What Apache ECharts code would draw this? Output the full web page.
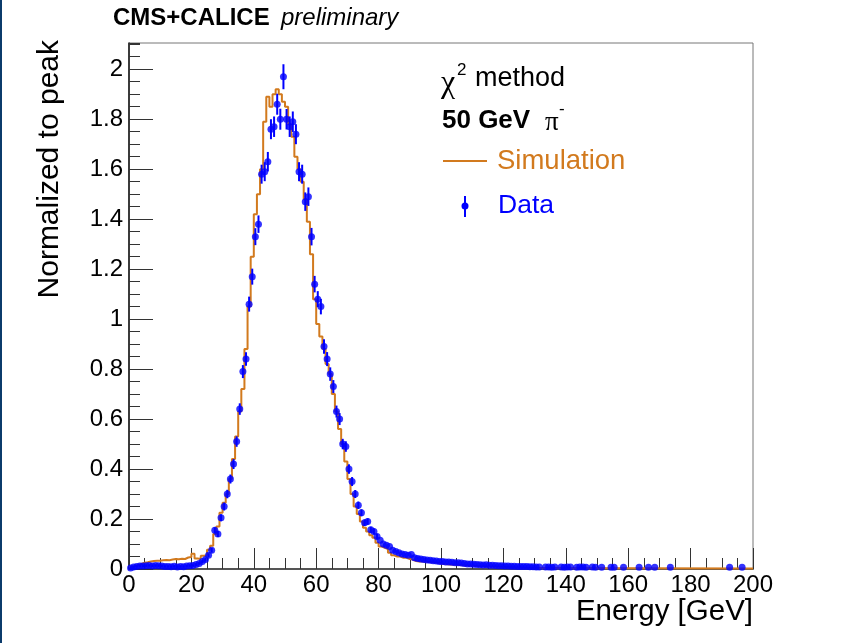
<!DOCTYPE html>
<html>
<head>
<meta charset="utf-8">
<script src="https://cdn.jsdelivr.net/npm/echarts@6/dist/echarts.min.js"></script>
<style>
    html, body { margin: 0; padding: 0; background: #fff; }
    #chart { width: 846px; height: 643px; }
</style>
</head>
<body>
<div id="chart"></div>
<script>
// simulation histogram, 1 GeV bins starting at 0
var simBinWidth = 1;
var simValues = [
    0.008, 0.012, 0.015, 0.02, 0.025, 0.027, 0.03, 0.032, 0.033, 0.033,
    0.035, 0.036, 0.035, 0.038, 0.04, 0.039, 0.041, 0.04, 0.046, 0.048,
    0.061, 0.042, 0.04, 0.053, 0.055, 0.077, 0.093, 0.14, 0.17, 0.225,
    0.265, 0.30, 0.36, 0.44, 0.53, 0.63, 0.72, 0.88, 1.05, 1.25,
    1.42, 1.50, 1.60, 1.79, 1.89, 1.85, 1.90, 1.92, 1.90, 1.87,
    1.85, 1.78, 1.73, 1.65, 1.60, 1.55, 1.48, 1.39, 1.26, 1.08,
    0.98, 0.93, 0.88, 0.82, 0.78, 0.70, 0.63, 0.56, 0.50, 0.43,
    0.36, 0.30, 0.25, 0.22, 0.19, 0.165, 0.15, 0.135, 0.125, 0.105,
    0.09, 0.085, 0.08, 0.065, 0.055, 0.05, 0.05, 0.045, 0.045, 0.04,
    0.038, 0.032, 0.03, 0.03, 0.029, 0.028, 0.027, 0.026, 0.025, 0.022,
    0.02, 0.019, 0.018, 0.017, 0.017, 0.016, 0.015, 0.014, 0.014, 0.013,
    0.012, 0.012, 0.011, 0.011, 0.010, 0.010, 0.010, 0.009, 0.009, 0.008,
    0.008, 0.007, 0.007, 0.006, 0.006, 0.005, 0.005, 0.004, 0.004, 0.004
];
// one wide bin for the flat tail 130-200 GeV
var simTailRange = [130, 200];
var simTailValue = 0.002;

// data, 1 GeV bins starting at 0 (0 = empty bin)
var dataBinWidth = 1;
var dataValues = [
    0.004, 0.008, 0.01, 0.012, 0.012, 0.013, 0.014, 0.012, 0.014, 0.013,
    0.012, 0.010, 0.010, 0.009, 0.011, 0.008, 0.010, 0.009, 0.012, 0.013,
    0.014, 0.018, 0.022, 0.030, 0.038, 0.055, 0.075, 0.155, 0.14, 0.205,
    0.25, 0.30, 0.36, 0.42, 0.51, 0.64, 0.79, 0.84, 1.06, 1.17,
    1.33, 1.38, 1.58, 1.59, 1.63, 1.76, 1.77, 1.86, 1.80, 1.97,
    1.80, 1.77, 1.79, 1.74, 1.59, 1.58, 1.47, 1.49, 1.33, 1.14,
    1.08, 1.05, 0.89, 0.84, 0.78, 0.73, 0.63, 0.60, 0.50, 0.49,
    0.40, 0.35, 0.30, 0.255, 0.225, 0.185, 0.19, 0.157, 0.15, 0.13,
    0.115, 0.10, 0.095, 0.09, 0.075, 0.07, 0.065, 0.06, 0.058, 0.055,
    0.058, 0.045, 0.042, 0.040, 0.038, 0.036, 0.035, 0.033, 0.032, 0.030,
    0.030, 0.028, 0.028, 0.027, 0.025, 0.025, 0.024, 0.022, 0.020, 0.020,
    0.019, 0.018, 0.017, 0.016, 0.017, 0.015, 0.015, 0.014, 0.013, 0.013,
    0.012, 0.012, 0.011, 0.011, 0.010, 0.010, 0.010, 0.010, 0.009, 0.009,
    0.008, 0.008, 0, 0.008, 0.008, 0.007, 0.008, 0, 0.008, 0.007,
    0.008, 0.008, 0, 0.007, 0.008, 0.008, 0.007, 0, 0.008, 0.007
];
// error bars for the first bins (later ones hide behind the markers)
var dataErrors = [
    0.004, 0.004, 0.004, 0.004, 0.004, 0.004, 0.004, 0.004, 0.004, 0.004,
    0.004, 0.004, 0.004, 0.004, 0.004, 0.004, 0.004, 0.004, 0.004, 0.004,
    0.004, 0.005, 0.005, 0.006, 0.007, 0.008, 0.009, 0.012, 0.012, 0.014,
    0.016, 0.017, 0.018, 0.02, 0.021, 0.023, 0.026, 0.027, 0.03, 0.032,
    0.034, 0.035, 0.038, 0.038, 0.039, 0.04, 0.041, 0.042, 0.042, 0.05,
    0.041, 0.041, 0.041, 0.04, 0.038, 0.038, 0.037, 0.037, 0.035, 0.033,
    0.032, 0.031, 0.029, 0.028, 0.027, 0.026, 0.024, 0.024, 0.021, 0.021,
    0.019, 0.018, 0.016, 0.015, 0.014, 0.013, 0.013, 0.012, 0.012, 0.011
];
// isolated data points in the far tail
var dataTailEnergy = [151.5, 154.5, 155.5, 158.5, 163.5, 166.5, 168.5, 173.5, 192.5, 196.5];
var dataTailValues = [0.007, 0.007, 0.007, 0.007, 0.007, 0.007, 0.007, 0.007, 0.007, 0.007];

var xMin = 0, xMax = 200, xMajor = 20, xMinor = 5;
var yMin = 0, yMax = 2.105, yMajor = 0.2, yMinor = 0.05;

var ORANGE = '#d27a1e';
var BLUE = '#0000ff';
var FONT = 'Liberation Sans, Arial, Helvetica, sans-serif';
var SERIF = 'Liberation Serif, Times New Roman, serif';

var initChart = function () {
    var simLine = [];
    $each(simValues, function (i, v) {
        simLine.push([i * simBinWidth, v]);
    });
    simLine.push([simTailRange[0], simTailValue]);
    simLine.push([simTailRange[1], simTailValue]);

    var points = [];
    var bars = [];
    $each(dataValues, function (i, v) {
        if (v <= 0) {
            return;
        }
        var e = (i + 0.5) * dataBinWidth;
        points.push([e, v]);
        if (i < dataErrors.length) {
            bars.push([e, v, dataErrors[i]]);
        }
    });
    $each(dataTailEnergy, function (i, e) {
        points.push([e, dataTailValues[i]]);
    });

    var tickStyle = { color: '#333', width: 1 };

    var options = {
        animation: false,
        backgroundColor: '#fff',
        grid: {
            left: 129,
            top: 43,
            width: 624,
            height: 526,
            show: true,
            borderColor: '#777',
            borderWidth: 1,
            backgroundColor: 'transparent'
        },
        xAxis: [
            {
                type: 'value',
                min: xMin,
                max: xMax,
                interval: xMajor,
                axisLine: { show: true, onZero: false, lineStyle: { color: '#555', width: 2 } },
                axisTick: { show: true, inside: true, length: 21, lineStyle: tickStyle },
                axisLabel: { color: '#000', fontSize: 24, fontFamily: FONT, margin: 4 },
                splitLine: { show: false }
            },
            {
                type: 'value',
                position: 'bottom',
                min: xMin,
                max: xMax,
                interval: xMinor,
                axisLine: { show: false },
                axisTick: { show: true, inside: true, length: 11, lineStyle: tickStyle },
                axisLabel: { show: false },
                splitLine: { show: false }
            }
        ],
        yAxis: [
            {
                type: 'value',
                min: yMin,
                max: yMax,
                interval: yMajor,
                axisLine: { show: true, onZero: false, lineStyle: { color: '#111', width: 1.5 } },
                axisTick: { show: true, inside: true, length: 24, lineStyle: tickStyle },
                axisLabel: {
                    color: '#000', fontSize: 24, fontFamily: FONT, margin: 6,
                    showMaxLabel: false,
                    formatter: function (v) {
                        return String(Math.round(v * 10) / 10);
                    }
                },
                splitLine: { show: false }
            },
            {
                type: 'value',
                position: 'left',
                min: yMin,
                max: yMax,
                interval: yMinor,
                axisLine: { show: false },
                axisTick: { show: true, inside: true, length: 11, lineStyle: tickStyle },
                axisLabel: { show: false },
                splitLine: { show: false }
            }
        ],
        series: [
            {
                name: 'Simulation',
                type: 'line',
                step: 'end',
                data: simLine,
                showSymbol: false,
                symbol: 'none',
                lineStyle: { color: ORANGE, width: 2 },
                z: 3
            },
            {
                name: 'Data',
                type: 'custom',
                data: bars,
                renderItem: function (params, api) {
                    var x = api.value(0);
                    var y = api.value(1);
                    var err = api.value(2);
                    var top = api.coord([x, y + err]);
                    var bottom = api.coord([x, y - err]);
                    return {
                        type: 'line',
                        shape: { x1: top[0], y1: top[1], x2: bottom[0], y2: bottom[1] },
                        style: { stroke: BLUE, lineWidth: 2 }
                    };
                },
                z: 4
            },
            {
                name: 'Data',
                type: 'scatter',
                data: points,
                symbol: 'circle',
                symbolSize: 7,
                itemStyle: { color: BLUE },
                z: 5
            }
        ],
        graphic: [
            // frame on the left of the page
            { type: 'rect', left: 0, top: 0, shape: { width: 2, height: 643 }, style: { fill: '#0b3b6b' } },
            // header
            { type: 'text', x: 113, y: 18, style: { text: 'CMS+CALICE', font: 'bold 24px ' + FONT, fill: '#000', verticalAlign: 'middle' } },
            { type: 'text', x: 281, y: 18, style: { text: 'preliminary', font: 'italic 24px ' + FONT, fill: '#000', verticalAlign: 'middle' } },
            // axis titles
            { type: 'text', x: 50, y: 40, rotation: Math.PI / 2, style: { text: 'Normalized to peak', font: '30px ' + FONT, fill: '#000', align: 'right', verticalAlign: 'middle' } },
            { type: 'text', x: 753, y: 612, style: { text: 'Energy [GeV]', font: '29.5px ' + FONT, fill: '#000', align: 'right', verticalAlign: 'middle' } },
            // info text
            { type: 'text', x: 441, y: 84, style: { text: 'χ', font: '32px ' + SERIF, fill: '#000', verticalAlign: 'middle' } },
            { type: 'text', x: 457, y: 70, style: { text: '2', font: '17px ' + FONT, fill: '#000', verticalAlign: 'middle' } },
            { type: 'text', x: 475, y: 79, style: { text: 'method', font: '27px ' + FONT, fill: '#000', verticalAlign: 'middle' } },
            { type: 'text', x: 442, y: 121, style: { text: '50 GeV', font: 'bold 26px ' + FONT, fill: '#000', verticalAlign: 'middle' } },
            { type: 'text', x: 545, y: 123, style: { text: 'π', font: '27px ' + SERIF, fill: '#000', verticalAlign: 'middle' } },
            { type: 'text', x: 559, y: 109, style: { text: '-', font: '17px ' + FONT, fill: '#000', verticalAlign: 'middle' } },
            // legend
            { type: 'line', shape: { x1: 443, y1: 161, x2: 487, y2: 161 }, style: { stroke: ORANGE, lineWidth: 2 } },
            { type: 'text', x: 497, y: 161, style: { text: 'Simulation', font: '27.5px ' + FONT, fill: ORANGE, verticalAlign: 'middle' } },
            { type: 'line', shape: { x1: 465, y1: 196, x2: 465, y2: 217 }, style: { stroke: BLUE, lineWidth: 2 } },
            { type: 'circle', shape: { cx: 465, cy: 206, r: 3.5 }, style: { fill: BLUE } },
            { type: 'text', x: 498, y: 206, style: { text: 'Data', font: '26.5px ' + FONT, fill: BLUE, verticalAlign: 'middle' } }
        ]
    };

    var chart = echarts.init(document.getElementById('chart'), null, { renderer: 'canvas' });
    chart.setOption(options);
};

function $each(arr, fn) {
    for (var i = 0; i < arr.length; i++) {
        fn(i, arr[i]);
    }
}

initChart();
</script>
</body>
</html>
